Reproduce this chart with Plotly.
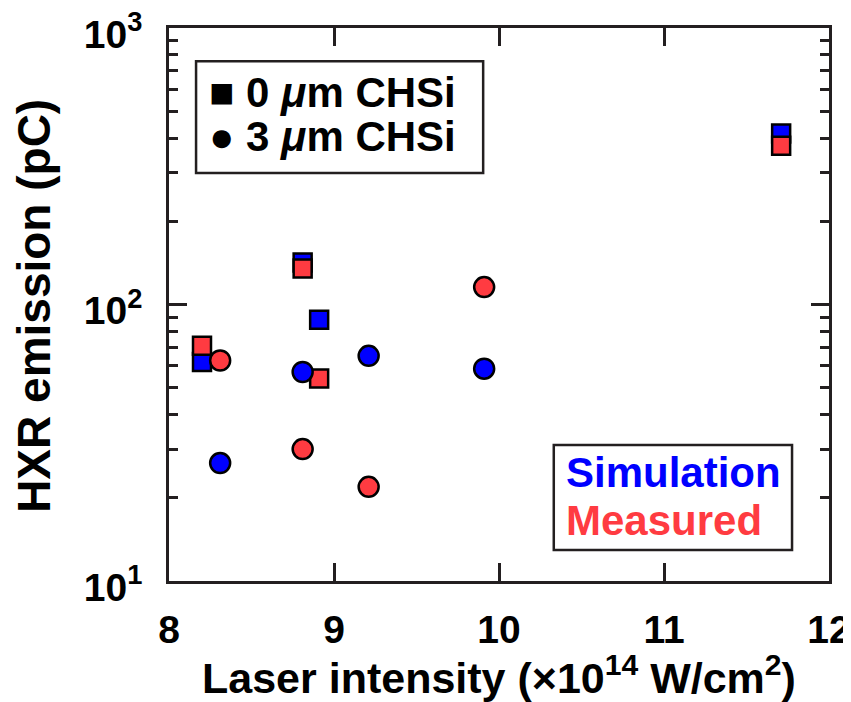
import plotly.graph_objects as go

# ---- data ----
sq_x = [8.2, 8.81, 8.91, 11.71]          # 0 um CHSi shots
sq_sim = [62, 142, 88, 415]
sq_meas = [71, 135, 54, 375]

ci_x = [8.31, 8.81, 9.21, 9.91]          # 3 um CHSi shots
ci_sim = [26.7, 57, 65.2, 58.6]
ci_meas = [62.7, 30, 21.9, 115.6]

y_tickvals = [10, 100, 1000]
y_ticktext = ["10<sup>1</sup>", "10<sup>2</sup>", "10<sup>3</sup>"]
x_tickvals = [8, 9, 10, 11, 12]

BLUE = "#0000FF"
RED = "#FF3B41"
FONT = "Liberation Sans"
AX = "#231F20"

fig = go.Figure()

def add(x, y, color, symbol, size):
    fig.add_trace(go.Scatter(
        x=x, y=y, mode="markers", showlegend=False,
        marker=dict(symbol=symbol, size=size, color=color,
                    line=dict(color="black", width=2.5))))

add(sq_x, sq_sim, BLUE, "square", 18)
add(sq_x, sq_meas, RED, "square", 18)
add(ci_x, ci_sim, BLUE, "circle", 20)
add(ci_x, ci_meas, RED, "circle", 20)

axis_common = dict(
    showline=True, linecolor=AX, linewidth=2.5, mirror="allticks",
    ticks="inside", tickcolor=AX, tickwidth=2.5, ticklen=18,
    showgrid=False, zeroline=False, automargin=False,
    ticklabeloverflow="allow",
    tickfont=dict(family=FONT, size=39, color="black", weight="bold"),
)

fig.update_xaxes(range=[8, 12], tickvals=x_tickvals, ticklabelstandoff=12,
                 **axis_common)

fig.update_yaxes(
    type="log", range=[1, 3], tickvals=y_tickvals, ticktext=y_ticktext,
    ticklabelstandoff=16, ticklabelshift=6,
    minor=dict(ticks="inside", ticklen=9, tickwidth=2.5, tickcolor=AX,
               dtick="D1", showgrid=False),
    **axis_common)

# axis titles
fig.add_annotation(xref="paper", yref="paper", x=0.5, y=-0.17,
                   xanchor="center", yanchor="middle", showarrow=False,
                   text="Laser intensity (×10<sup>14</sup> W/cm<sup>2</sup>)",
                   font=dict(family=FONT, size=43, color="black", weight="bold"))
fig.add_annotation(xref="paper", yref="paper", x=-0.205, y=0.497,
                   xanchor="center", yanchor="middle", showarrow=False,
                   textangle=-90, text="HXR emission (pC)",
                   font=dict(family=FONT, size=46, color="black", weight="bold"))

# legend boxes
fig.add_shape(type="rect", xref="paper", yref="paper",
              x0=0.041, x1=0.476, y0=0.738, y1=0.940,
              line=dict(color=AX, width=2.5), fillcolor="white", layer="above")
fig.add_shape(type="rect", xref="paper", yref="paper",
              x0=0.583, x1=0.944, y0=0.056, y1=0.246,
              line=dict(color=AX, width=2.5), fillcolor="white", layer="above")

lf = dict(family=FONT, size=42, color="black", weight="bold")
fig.add_annotation(xref="paper", yref="paper", x=0.058, y=0.884,
                   xanchor="left", yanchor="middle", showarrow=False,
                   text="■ 0 <i>μ</i>m CHSi", font=lf)
fig.add_annotation(xref="paper", yref="paper", x=0.058, y=0.803,
                   xanchor="left", yanchor="middle", showarrow=False,
                   text="● 3 <i>μ</i>m CHSi", font=lf)
fig.add_annotation(xref="paper", yref="paper", x=0.598, y=0.197,
                   xanchor="left", yanchor="middle", showarrow=False,
                   text="Simulation", font=dict(lf, color=BLUE))
fig.add_annotation(xref="paper", yref="paper", x=0.598, y=0.110,
                   xanchor="left", yanchor="middle", showarrow=False,
                   text="Measured", font=dict(lf, color=RED))

# the page adds an 8 px body margin; shrink the figure to compensate
fig.update_layout(
    width=843, height=694,
    margin=dict(l=161, r=22, t=20, b=121),
    plot_bgcolor="white", paper_bgcolor="white",
)

fig.write_html("out.html")
